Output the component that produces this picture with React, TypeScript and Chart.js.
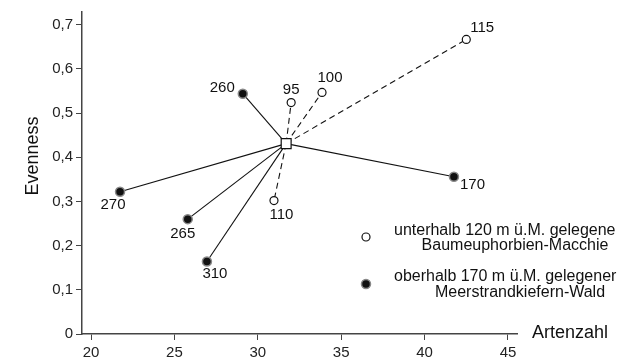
import React, { useEffect, useRef } from "react";
import { Chart, registerables } from "chart.js";

Chart.register(...registerables);

// ---- data ----
const centerX = 31.7;
const centerY = 0.431;
const lowSites = ["95", "100", "115", "110"];
const lowX = [32.0, 33.85, 42.5, 30.97];
const lowY = [0.524, 0.547, 0.667, 0.302];
const highSites = ["260", "170", "270", "265", "310"];
const highX = [29.1, 41.76, 21.74, 25.8, 26.95];
const highY = [0.544, 0.356, 0.322, 0.26, 0.164];
const xTicks = [20, 25, 30, 35, 40, 45];
const yTicks = [0, 0.1, 0.2, 0.3, 0.4, 0.5, 0.6, 0.7];
const xTitle = "Artenzahl";
const yTitle = "Evenness";
const legendLow = ["unterhalb 120 m ü.M. gelegene", "Baumeuphorbien-Macchie"];
const legendHigh = ["oberhalb 170 m ü.M. gelegener", "Meerstrandkiefern-Wald"];

// ---- styles ----
const FONT = '"Liberation Sans", Arial, Helvetica, sans-serif';
const INK = "#111";
const labelOffsets: Record<string, [number, number, CanvasTextAlign]> = {
  "260": [-8, -6, "right"],
  "95": [0, -13, "center"],
  "100": [8, -14.5, "center"],
  "115": [4, -11.5, "left"],
  "170": [6, 8, "left"],
  "270": [-7, 13.5, "center"],
  "265": [-5, 15, "center"],
  "310": [8, 12.5, "center"],
  "110": [7.5, 14, "center"],
};

const annotations = {
  id: "annotations",
  afterDraw(chart: any) {
    const ctx = chart.ctx as CanvasRenderingContext2D;
    const xs = chart.scales.x;
    const ys = chart.scales.y;
    ctx.save();
    ctx.fillStyle = INK;
    // point labels
    ctx.font = `15px ${FONT}`;
    ctx.textBaseline = "middle";
    const put = (names: string[], X: number[], Y: number[]) => {
      names.forEach((n, i) => {
        const [dx, dy, al] = labelOffsets[n] || [6, -10, "left"];
        ctx.textAlign = al;
        ctx.fillText(n, xs.getPixelForValue(X[i]) + dx, ys.getPixelForValue(Y[i]) + dy);
      });
    };
    put(lowSites, lowX, lowY);
    put(highSites, highX, highY);

    // axis titles
    ctx.font = `18px ${FONT}`;
    ctx.textAlign = "left";
    ctx.textBaseline = "alphabetic";
    ctx.fillText(xTitle, 532, 338);
    ctx.save();
    ctx.translate(38, 156);
    ctx.rotate(-Math.PI / 2);
    ctx.textAlign = "center";
    ctx.fillText(yTitle, 0, 0);
    ctx.restore();

    // legend
    ctx.font = `16px ${FONT}`;
    ctx.textBaseline = "middle";
    ctx.textAlign = "left";
    ctx.fillText(legendLow[0], 394, 231);
    ctx.textAlign = "center";
    ctx.fillText(legendLow[1], 515, 246);
    ctx.textAlign = "left";
    ctx.fillText(legendHigh[0], 394, 277);
    ctx.textAlign = "center";
    ctx.fillText(legendHigh[1], 520, 293);

    ctx.beginPath();
    ctx.arc(366, 237, 4, 0, Math.PI * 2);
    ctx.fillStyle = "#fff";
    ctx.fill();
    ctx.lineWidth = 1.2;
    ctx.strokeStyle = INK;
    ctx.stroke();

    ctx.beginPath();
    ctx.arc(366, 284, 4.5, 0, Math.PI * 2);
    ctx.fillStyle = INK;
    ctx.fill();
    ctx.lineWidth = 1.5;
    ctx.strokeStyle = "#888";
    ctx.stroke();
    ctx.restore();
  },
};

export default function App() {
  const ref = useRef<HTMLCanvasElement>(null);
  useEffect(() => {
    document.body.style.margin = "0";
    const center = { x: centerX, y: centerY };
    const lineSets: any[] = [];
    lowSites.forEach((_, i) =>
      lineSets.push({
        data: [center, { x: lowX[i], y: lowY[i] }],
        showLine: true,
        borderDash: [6, 4],
        borderColor: INK,
        borderWidth: 1.1,
        pointRadius: 0,
        order: 3,
      })
    );
    highSites.forEach((_, i) =>
      lineSets.push({
        data: [center, { x: highX[i], y: highY[i] }],
        showLine: true,
        borderColor: INK,
        borderWidth: 1.1,
        pointRadius: 0,
        order: 3,
      })
    );
    const chart = new Chart(ref.current!, {
      type: "scatter",
      data: {
        datasets: [
          ...lineSets,
          {
            data: lowX.map((x, i) => ({ x, y: lowY[i] })),
            pointStyle: "circle",
            pointRadius: 4,
            pointBackgroundColor: "#fff",
            pointBorderColor: INK,
            pointBorderWidth: 1.2,
            order: 1,
          },
          {
            data: highX.map((x, i) => ({ x, y: highY[i] })),
            pointStyle: "circle",
            pointRadius: 4.5,
            pointBackgroundColor: INK,
            pointBorderColor: "#888",
            pointBorderWidth: 1.5,
            order: 1,
          },
          {
            data: [center],
            pointStyle: "rect",
            pointRadius: 7,
            pointBackgroundColor: "#fff",
            pointBorderColor: INK,
            pointBorderWidth: 1.2,
            order: 0,
          },
        ],
      },
      options: {
        animation: false,
        responsive: false,
        layout: { padding: { left: 0, top: 6, right: 110, bottom: 0 } },
        plugins: { legend: { display: false }, tooltip: { enabled: false } },
        scales: {
          x: {
            type: "linear",
            min: 19.46,
            max: 45.54,
            afterBuildTicks: (s: any) => {
              s.ticks = xTicks.map((v) => ({ value: v }));
            },
            afterFit: (s: any) => {
              s.height = 26;
            },
            ticks: {
              font: { family: FONT, size: 15 },
              color: "#222",
              padding: 4,
              maxRotation: 0,
              callback: (v: any) => String(v),
            },
            grid: { display: true, drawOnChartArea: false, drawTicks: true, tickLength: 6, color: "#444" },
            border: { display: true, color: "#444", width: 1.5 },
          },
          y: {
            type: "linear",
            min: 0,
            max: 0.729,
            afterBuildTicks: (s: any) => {
              s.ticks = yTicks.map((v) => ({ value: v }));
            },
            afterFit: (s: any) => {
              s.width = 82;
            },
            ticks: {
              font: { family: FONT, size: 15 },
              color: "#222",
              padding: 3,
              callback: (v: any) => (v === 0 ? "0" : Number(v).toFixed(1).replace(".", ",")),
            },
            grid: { display: true, drawOnChartArea: false, drawTicks: true, tickLength: 6, color: "#444" },
            border: { display: true, color: "#444", width: 1.5 },
          },
        },
      },
      plugins: [annotations],
    });
    return () => chart.destroy();
  }, []);
  return <canvas ref={ref} width={627} height={360} style={{ display: "block" }} />;
}
